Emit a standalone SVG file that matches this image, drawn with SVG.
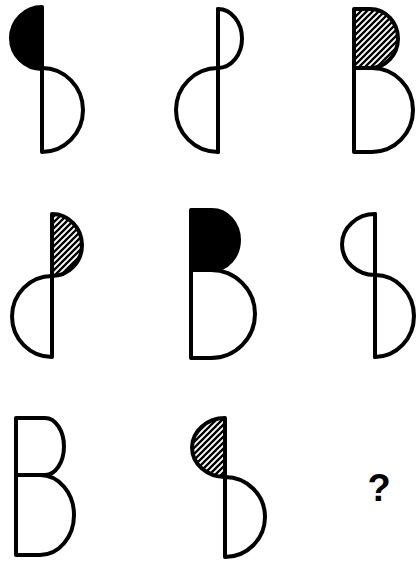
<svg xmlns="http://www.w3.org/2000/svg" width="416" height="563" viewBox="0 0 416 563">
<style>
.o{fill:none;stroke:#000;stroke-width:4;stroke-linejoin:round;stroke-linecap:round}
.b{fill:#000;stroke:#000;stroke-width:4;stroke-linejoin:round}
.h{fill:url(#hatch);stroke:#000;stroke-width:4;stroke-linejoin:round}
.q{font-family:"Liberation Sans",Arial,sans-serif;font-weight:bold;font-size:38px;fill:#000}
</style>
<defs>
<pattern id="hatch" patternUnits="userSpaceOnUse" width="6" height="6">
<rect width="6" height="6" fill="#fff"/>
<path d="M-1.5,1.5 L1.5,-1.5 M0,6 L6,0 M4.5,7.5 L7.5,4.5" stroke="#000" stroke-width="2.3"/>
</pattern>
</defs>
<rect width="416" height="563" fill="#fff"/>
<g id="fig1">
<path class="b" d="M42,7 A31,31 0 0 0 42,69 Z"/>
<path class="o" d="M42,68 A41,42 0 0 1 42,152 Z"/>
</g>
<g id="fig2">
<path class="o" d="M218,9 A24,29.5 0 0 1 218,68"/>
<path class="o" d="M218,68 A42,42 0 0 0 218,152 Z"/>
<line class="o" x1="218" y1="9" x2="218" y2="152"/>
</g>
<g id="fig3">
<path class="o" d="M354,68 H372 A41,42 0 0 1 372,152 H354 Z"/>
<path class="h" d="M354,9 H370 A28,29.5 0 0 1 370,68 H354 Z"/>
</g>
<g id="fig4">
<path class="h" d="M52,214 A30,31 0 0 1 52,276 Z"/>
<path class="o" d="M52,276 A40,40.5 0 0 0 52,357 Z"/>
</g>
<g id="fig5">
<path class="o" d="M191,270 H211 A44,44 0 0 1 211,358 H191 Z"/>
<path class="b" d="M191,210 H212 A27,30 0 0 1 212,270 H191 Z"/>
</g>
<g id="fig6">
<path class="o" d="M375,214 A33,30.5 0 0 0 375,275"/>
<path class="o" d="M375,275 A39,41 0 0 1 375,357 Z"/>
<line class="o" x1="375" y1="214" x2="375" y2="357"/>
</g>
<g id="fig7">
<path class="o" d="M16,418 H45 A19,28.5 0 0 1 45,475 H16 Z"/>
<path class="o" d="M16,475 H40 A34,40 0 0 1 40,555 H16 Z"/>
</g>
<g id="fig8">
<path class="h" d="M225,418 A33,29.5 0 0 0 225,477 Z"/>
<path class="o" d="M225,477 A40,40 0 0 1 225,557 Z"/>
</g>
<text class="q" x="379" y="501" text-anchor="middle">?</text>
</svg>
